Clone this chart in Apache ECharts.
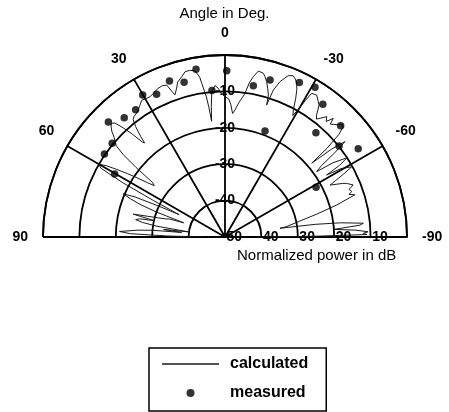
<!DOCTYPE html>
<html>
<head>
<meta charset="utf-8">
<title>Polar pattern</title>
<script src="https://cdn.jsdelivr.net/npm/echarts@6.0.0/dist/echarts.min.js"></script>
<style>
  html, body { margin: 0; padding: 0; background: #fff; }
  #chart { width: 449px; height: 412px; }
</style>
</head>
<body>
<div id="chart"></div>
<script>
// tick labels
const radiusTicks = [-50, -40, -30, -20, -10, 0];
const angleTicks = [-90, -60, -30, 0, 30, 60, 90];

// calculated pattern: angle (deg) and normalized power (dB)
const calcAngle = [
  90, 89, 88, 87, 86.3, 85.5, 84.7, 84, 83, 82, 81, 80, 79, 78, 77, 76, 75, 74, 73, 72,
  71, 70, 69, 68, 67, 66, 65, 64, 63, 62, 61, 60, 59, 58, 57, 56, 55, 54, 53, 52,
  51, 50, 49, 48, 47, 46, 45, 44, 43, 42, 41, 40.5, 40, 39, 38, 37, 35.5, 34, 33, 31.3,
  30, 28.1, 26.5, 24.2, 22.5, 21, 20, 19.4, 18, 17, 15.1, 13.6, 12, 10.2, 9, 8.6, 7.6, 7.1, 6.6, 6,
  5.2, 3.8, 2.6, 1.5, 0, -1.5, -2.5, -3.5, -4.5, -5.8, -7, -7.9, -9, -10, -11.4, -13.2, -14, -15, -16, -17,
  -17.5, -18.2, -19.5, -21.4, -22.9, -24, -25, -26, -27, -28.3, -29.2, -30, -30.5, -31.1, -32.9, -34.5, -35.5, -36.9, -37.8, -38.7,
  -40.2, -41.2, -42.4, -43, -44, -45.3, -46, -47, -48, -49, -49.6, -50.5, -51.5, -52.5, -53.5, -54.5, -55.5, -57, -57.5, -58,
  -58.6, -59.5, -61, -62, -63, -63.7, -64.4, -65.5, -66.2, -67.9, -69, -70.3, -71, -72, -74, -76, -78, -80.5, -81, -82,
  -83, -84.3, -85, -86, -87, -87.9, -88.5, -89, -89.5, -90
];
const calcPower = [
  -44, -34, -24, -21, -20.5, -26, -30, -38, -33, -40, -31, -27, -25, -26, -30, -24, -28, -31, -33, -34,
  -38, -30, -25, -22, -19.6, -23, -30, -36, -28, -18, -11, -10, -12, -15, -18, -21, -24, -26, -25, -19,
  -14, -11, -10, -9, -7.5, -6.5, -5.8, -6.5, -9, -12, -15.5, -16, -14, -11, -9, -8.5, -8.2, -7.5, -7, -6,
  -6.2, -6.3, -5.9, -5.2, -5, -5.3, -7.5, -8.6, -7, -5.5, -4.4, -3.3, -3.2, -3.6, -5.5, -7.3, -11, -14, -18, -14,
  -9.9, -8.3, -9.1, -10.5, -11.5, -12, -13.5, -16, -15, -13, -11.5, -10.2, -7, -5.3, -3.5, -3.8, -4.6, -5.8, -7.5, -9.2,
  -12, -7.5, -4.7, -2.4, -1.9, -2.5, -3.4, -5, -7.2, -10.4, -11.8, -9, -6.4, -3.9, -3.6, -4.8, -5.5, -8.1, -9, -8.2,
  -6.7, -7.8, -5.9, -7.6, -7, -6.2, -5.4, -5.6, -8, -13, -18.7, -12, -7.9, -12, -17, -19.1, -14, -10, -9.8, -13,
  -17.3, -13, -10.2, -13, -16, -17.8, -18, -14.5, -13.5, -12, -13.5, -13, -14, -12.5, -18, -24, -29, -33, -34.7, -25,
  -18, -11.8, -12.8, -20, -14, -10.7, -12, -11, -25, -40
];

// measured points
const measAngle = [60.3, 55.5, 50.3, 45.4, 40.2, 35.1, 30.1, 25.6, 19.6, 14.8, 9.8, 5.1, -0.6,
  -10.6, -16, -20.7, -25.7, -31, -36.4, -41.1, -46.1, -51.4, -56.5, -61.4];
const measPower = [-15.1, -9.8, -9.7, -5.0, -7.1, -7.3, -4.9, -6.5, -4.5, -6.0, -3.2, -9.6, -4.3,
  -7.7, -5.1, -18.9, -2.9, -2.0, -4.7, -12.0, -5.9, -9.9, -6.1, -21.5];

const calcData = calcAngle.map((a, i) => [calcPower[i], a]);
const measData = measAngle.map((a, i) => [measPower[i], a]);

const FONT = '"Liberation Sans", Arial, Helvetica, sans-serif';
const center = [225, 237];
const radius = 182;
const gridLine = { color: '#000', width: 1.8 };

let chart = echarts.init(document.getElementById('chart'));

chart.setOption({
  animation: false,
  backgroundColor: '#fff',
  textStyle: { fontFamily: FONT },
  title: [
    {
      text: 'Angle in Deg.', left: 'center', top: 6, padding: 0,
      textStyle: { fontSize: 15, fontWeight: 'normal', color: '#000', fontFamily: FONT }
    },
    {
      text: 'Normalized power in dB', left: 237, top: 248, padding: 0,
      textStyle: { fontSize: 15, fontWeight: 'normal', color: '#000', fontFamily: FONT }
    }
  ],
  polar: [
    { center: center, radius: radius },
    { center: center, radius: radius }
  ],
  angleAxis: [
    {
      polarIndex: 0,
      type: 'value',
      min: angleTicks[0],
      max: angleTicks[angleTicks.length - 1],
      interval: 30,
      startAngle: 0,
      endAngle: 180,
      clockwise: false,
      axisLine: { lineStyle: gridLine },
      axisTick: { show: false },
      axisLabel: { margin: 15, color: '#000', fontSize: 14, fontWeight: 'bold', fontFamily: FONT },
      splitLine: { lineStyle: gridLine }
    },
    { polarIndex: 1, type: 'value', min: 0, max: 360, startAngle: 90, show: false }
  ],
  radiusAxis: [
    {
      polarIndex: 0,
      type: 'value',
      min: radiusTicks[0],
      max: radiusTicks[radiusTicks.length - 1],
      interval: 10,
      axisLine: { show: true, lineStyle: gridLine },
      axisTick: { show: false },
      axisLabel: {
        margin: 0, align: 'center', verticalAlign: 'middle', padding: [0, 0, 0, 14],
        color: '#000', fontSize: 14, fontWeight: 'bold', fontFamily: FONT,
        formatter: v => (v === 0 ? '' : String(v))
      },
      splitLine: { show: true, lineStyle: gridLine }
    },
    {
      polarIndex: 1,
      type: 'value',
      min: radiusTicks[0],
      max: radiusTicks[radiusTicks.length - 1],
      interval: 10,
      axisLine: { show: false },
      axisTick: { show: false },
      splitLine: { show: false },
      axisLabel: {
        margin: 0, align: 'center', verticalAlign: 'middle',
        color: '#000', fontSize: 14, fontWeight: 'bold', fontFamily: FONT,
        formatter: v => (v === 0 || v === -50 ? '' : String(v))
      }
    }
  ],
  legend: {
    orient: 'vertical',
    left: 149,
    top: 348,
    data: [
      { name: 'calculated', icon: 'path://M0 0H100V3H0Z' },
      { name: 'measured', icon: 'circle' }
    ],
    itemWidth: 57,
    itemHeight: 8,
    itemGap: 13,
    padding: [8, 18, 10, 13],
    borderColor: '#000',
    borderWidth: 1.5,
    textStyle: { fontSize: 16, fontWeight: 'bold', color: '#000', fontFamily: FONT, padding: [0, 0, 0, 6] }
  },
  series: [
    {
      name: 'calculated',
      type: 'line',
      coordinateSystem: 'polar',
      polarIndex: 0,
      data: calcData,
      symbol: 'none',
      lineStyle: { color: '#1a1a1a', width: 1 },
      itemStyle: { color: '#1a1a1a' },
      z: 3
    },
    {
      name: 'measured',
      type: 'scatter',
      coordinateSystem: 'polar',
      polarIndex: 0,
      data: measData,
      symbolSize: 7.5,
      itemStyle: { color: '#000' },
      z: 4
    }
  ]
});
</script>
</body>
</html>
